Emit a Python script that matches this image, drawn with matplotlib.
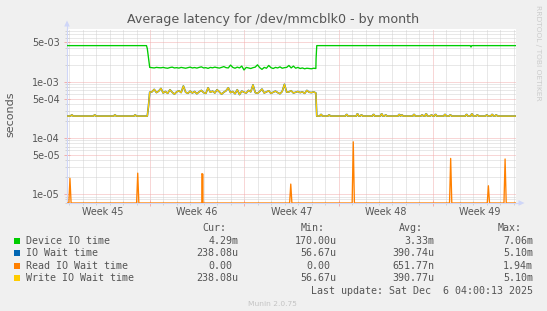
import numpy as np
import matplotlib
matplotlib.use('Agg')
import matplotlib.pyplot as plt
from matplotlib.lines import Line2D
from matplotlib.patches import Polygon, Rectangle
from matplotlib.ticker import NullFormatter
import matplotlib.transforms as mtransforms

# ---------------- data (x in days relative to Sunday 2025-11-09 00:00) ----------------
title = "Average latency for /dev/mmcblk0 - by month"
y_label = "seconds"
week_labels = ["Week 45", "Week 46", "Week 47", "Week 48", "Week 49"]
week_starts = [-7, 0, 7, 14, 21]
x_range = [-6.16, 27.17]
y_range = [6.9e-6, 8.7e-3]
y_major = [1e-5, 5e-5, 1e-4, 5e-4, 1e-3, 5e-3]
y_major_labels = ["1e-05", "5e-05", "1e-04", "5e-04", "1e-03", "5e-03"]

# noisy block (4-hour samples) starting at day -0.02
block_start = -0.02
block_step_days = 1 / 6
device_block_ms = [1.80, 1.78, 1.76, 1.80, 1.78, 1.77,
                   1.80, 1.76, 1.74, 1.79, 1.82, 1.76,
                   1.78, 1.75, 1.80, 1.77, 1.74, 1.78,
                   1.82, 1.76, 1.79, 1.75, 1.80, 1.84,
                   1.76, 1.78, 1.73, 1.80, 1.77, 1.82,
                   1.78, 1.75, 1.80, 1.86, 1.78, 1.76,
                   1.98, 1.80, 1.74, 1.82, 1.76, 1.90,
                   1.62, 1.80, 1.76, 1.72, 1.78, 1.82,
                   2.00, 1.78, 1.66, 1.80, 1.74, 1.95,
                   1.78, 1.72, 1.80, 1.76, 1.84, 1.74,
                   1.78, 1.80, 1.95, 1.76, 1.90, 1.74,
                   1.80, 1.72, 1.76, 1.70, 1.74, 1.72,
                   1.70, 1.74, 1.72]
write_block_e4 = [6.5, 6.6, 7.3, 6.4, 6.8, 7.6,
                  6.3, 6.7, 6.2, 7.2, 6.5, 6.0,
                  6.6, 6.9, 6.4, 8.4, 6.5, 6.2,
                  6.8, 6.3, 6.7, 6.1, 6.6, 7.0,
                  6.4, 6.2, 7.8, 6.5, 6.8, 6.3,
                  7.2, 6.6, 6.0, 6.5, 6.9, 7.8,
                  6.4, 6.7, 6.1, 7.2, 5.9, 6.8,
                  6.5, 6.3, 7.0, 6.6, 8.8, 6.4,
                  6.2, 6.7, 7.4, 6.3, 6.6, 6.9,
                  6.2, 6.5, 6.8, 6.4, 6.1, 6.7,
                  9.0, 6.5, 6.6, 6.9, 6.3, 6.5,
                  6.7, 6.4, 6.6, 6.2, 7.0, 6.5,
                  6.4, 6.6, 6.3]

device_pre_t = [-6.16, -0.26, -0.20]
device_pre_v = [4.40e-3, 4.40e-3, 3.90e-3]
device_post_t = [12.33, 12.38, 23.78, 23.83, 23.88, 27.17]
device_post_v = [2.60e-3, 4.40e-3, 4.40e-3, 4.15e-3, 4.40e-3, 4.40e-3]

write_base = 2.44e-4
write_pre_t = [-6.16, -0.20, -0.12]
write_pre_v = [2.44e-4, 2.44e-4, 3.50e-4]
write_post_t = [12.38, 27.17]
write_post_v = [2.44e-4, 2.44e-4]
write_bump_t = [-5.8, -4.1, -2.6, -1.1, 12.7, 13.3, 14.6, 15.4, 15.7, 16.6, 17.2, 17.5,
                18.5, 18.7, 19.6, 20.2, 20.5, 20.9, 21.2, 21.9, 22.3, 23.5, 23.9, 24.3,
                25.0, 25.4, 25.7]
write_bump_v = [2.55e-4, 2.55e-4, 2.55e-4, 2.55e-4, 2.6e-4, 2.55e-4, 2.6e-4, 2.65e-4,
                2.55e-4, 2.6e-4, 2.65e-4, 2.55e-4, 2.6e-4, 2.55e-4, 2.6e-4, 2.55e-4,
                2.65e-4, 2.55e-4, 2.6e-4, 2.6e-4, 2.55e-4, 2.6e-4, 2.65e-4, 2.55e-4,
                2.55e-4, 2.6e-4, 2.55e-4]

read_spike_t = [-5.94, -0.91, 3.85, 3.93, 10.45, 15.09, 22.32, 25.12, 26.36]
read_spike_v = [1.9e-5, 2.35e-5, 2.3e-5, 2.25e-5, 1.5e-5, 8.5e-5, 4.3e-5, 1.4e-5, 4.2e-5]

series_names = ["Device IO time", "IO Wait time", "Read IO Wait time", "Write IO Wait time"]
series_colors = ["#00CC00", "#0066B3", "#FF8000", "#FFCC00"]
col_headers = ["Cur:", "Min:", "Avg:", "Max:"]
cur_vals = ["4.29m", "238.08u", "0.00", "238.08u"]
min_vals = ["170.00u", "56.67u", "0.00", "56.67u"]
avg_vals = ["3.33m", "390.74u", "651.77n", "390.77u"]
max_vals = ["7.06m", "5.10m", "1.94m", "5.10m"]
last_update = "Last update: Sat Dec  6 04:00:13 2025"
watermark = "Munin 2.0.75"
side_text = "RRDTOOL / TOBI OETIKER"

# ---------------- build series ----------------
block_t = block_start + np.arange(len(device_block_ms)) * block_step_days
dev_t = np.concatenate([device_pre_t, block_t, device_post_t])
dev_v = np.concatenate([device_pre_v, np.array(device_block_ms) * 1e-3, device_post_v])

base_t = np.concatenate([write_pre_t, block_t, write_post_t])
base_v = np.concatenate([write_pre_v, np.array(write_block_e4) * 1e-4, write_post_v])
bt, bv = [], []
for t, v in zip(write_bump_t, write_bump_v):
    bt += [t - 0.09, t - 0.03, t + 0.03, t + 0.09]
    bv += [write_base, v, v, write_base]
wr_t = np.concatenate([base_t, bt])
wr_v = np.concatenate([base_v, bv])
order = np.argsort(wr_t, kind='stable')
wr_t, wr_v = wr_t[order], wr_v[order]

rt, rv = [x_range[0]], [0.0]
for t, v in zip(read_spike_t, read_spike_v):
    rt += [t - 1 / 12, t, t + 1 / 12]
    rv += [0.0, v, 0.0]
rt.append(x_range[1]); rv.append(0.0)
rt = np.array(rt); rv = np.array(rv)
order = np.argsort(rt, kind='stable')
rt, rv = rt[order], rv[order]
rv_plot = np.clip(rv, y_range[0], None)  # rrdtool draws values below range on the bottom edge

# ---------------- figure ----------------
W, H = 547, 311
fig = plt.figure(figsize=(W / 100, H / 100), dpi=100, facecolor='#F0F0F0')


def fx(px):
    return px / W


def fy(py):
    return 1 - py / H


L, R, T, B = 67, 516, 29, 203
ax = fig.add_axes([fx(L), fy(B), (R - L) / W, (B - T) / H])
ax.set_facecolor('white')
ax.set_yscale('log')
ax.set_xlim(*x_range)
ax.set_ylim(*y_range)

TXT = '#555555'
MGRID = '#F2AEAE'
GRID = '#D2D2D2'
AXC = '#CFD6F8'
dots = (0, (1, 1))

ax.set_yticks(y_major, y_major_labels)
y_minor = [m * 10.0 ** e for e in range(-6, -1) for m in (2, 3, 4, 6, 7, 8, 9)
           if y_range[0] <= m * 10.0 ** e <= y_range[1]]
ax.set_yticks(y_minor, minor=True)
ax.yaxis.set_minor_formatter(NullFormatter())

x_major = [w for w in week_starts if x_range[0] <= w <= x_range[1]]
ax.set_xticks(x_major)
ax.set_xticklabels([])
x_minor = [d for d in range(int(np.ceil(x_range[0])), int(np.floor(x_range[1])) + 1) if d % 7 != 0]
ax.set_xticks(x_minor, minor=True)
ax.xaxis.set_minor_formatter(NullFormatter())

ax.grid(which='minor', color=GRID, linestyle=dots, linewidth=0.72)
ax.grid(which='major', color=MGRID, linestyle=dots, linewidth=0.72)
ax.set_axisbelow(True)

ax.tick_params(axis='both', which='major', direction='inout', length=4, width=0.72,
               color=MGRID, labelsize=6.9, labelcolor=TXT, pad=3)
ax.tick_params(axis='both', which='minor', direction='inout', length=3, width=0.72, color=GRID)
ax.tick_params(axis='x', which='both', labelbottom=False)

for s in ('top', 'right'):
    ax.spines[s].set_visible(False)
ax.spines['left'].set_color(AXC)
ax.spines['bottom'].set_color(AXC)
ax.spines['left'].set_linewidth(0.8)
ax.spines['bottom'].set_linewidth(0.8)

lw = 0.95
ax.plot(dev_t, dev_v, color=series_colors[0], lw=lw, zorder=3)
ax.plot(wr_t, wr_v, color=series_colors[1], lw=lw + 0.25, zorder=4)
ax.plot(rt, rv_plot, color=series_colors[2], lw=lw, zorder=5, clip_on=True)
ax.plot(wr_t, wr_v, color=series_colors[3], lw=lw, zorder=6)

# week labels
trans = mtransforms.blended_transform_factory(ax.transData, ax.transAxes)
for w, lab in zip(week_starts, week_labels):
    mid = w + 3.5
    ax.text(mid, -(211.7 - B) / (B - T), lab, transform=trans, ha='center', va='center',
            fontsize=6.9, color=TXT)

# axis arrows
fig.add_artist(Line2D([fx(L), fx(L)], [fy(T), fy(23)], color=AXC, lw=0.8))
fig.add_artist(Polygon([[fx(L - 2.8), fy(26.5)], [fx(L + 2.8), fy(26.5)], [fx(L), fy(20.5)]],
                       closed=True, color=AXC, lw=0))
fig.add_artist(Line2D([fx(R), fx(520)], [fy(B), fy(B)], color=AXC, lw=0.8))
fig.add_artist(Polygon([[fx(518.5), fy(B - 2.8)], [fx(518.5), fy(B + 2.8)], [fx(524.5), fy(B)]],
                       closed=True, color=AXC, lw=0))

# title & labels
fig.text(fx(273), fy(19.5), title, ha='center', va='center', fontsize=9.1, color=TXT)
fig.text(fx(10.8), fy(114.5), y_label, ha='center', va='center', rotation=90, fontsize=8.0, color=TXT)
fig.text(fx(537.7), fy(53), side_text, ha='center', va='center', rotation=270, fontsize=5.4,
         color='#CCCCCC')

# legend
mono = 'DejaVu Sans Mono'
LFS = 7.2
char_w = 5.98
val_right = [238.3, 336.7, 434.4, 533.1]
row_y = [240.9, 253.1, 265.7, 278.3]
for hdr, xr in zip(col_headers, val_right):
    fig.text(fx(xr - 2 * char_w), fy(227.7), hdr, ha='right', va='center',
             fontsize=LFS, family=mono, color=TXT)
cols = [cur_vals, min_vals, avg_vals, max_vals]
for i, (name, col) in enumerate(zip(series_names, series_colors)):
    y = row_y[i]
    fig.add_artist(Rectangle((fx(13.5), fy(y + 3)), 6 / W, 6 / H, facecolor=col,
                             edgecolor='none'))
    fig.text(fx(26.2), fy(y), name, ha='left', va='center', fontsize=LFS, family=mono, color=TXT)
    for vals, xr in zip(cols, val_right):
        v = vals[i]
        shift = char_w if v[-1].isdigit() else 0
        fig.text(fx(xr - shift), fy(y), v, ha='right', va='center', fontsize=LFS,
                 family=mono, color=TXT)
fig.text(fx(533.1), fy(291.2), last_update, ha='right', va='center', fontsize=LFS,
         family=mono, color=TXT)
fig.text(fx(272.9), fy(304.1), watermark, ha='center', va='center', fontsize=5.4,
         color='#C4C4C4')

fig.savefig('out.png', dpi=100, facecolor=fig.get_facecolor())
